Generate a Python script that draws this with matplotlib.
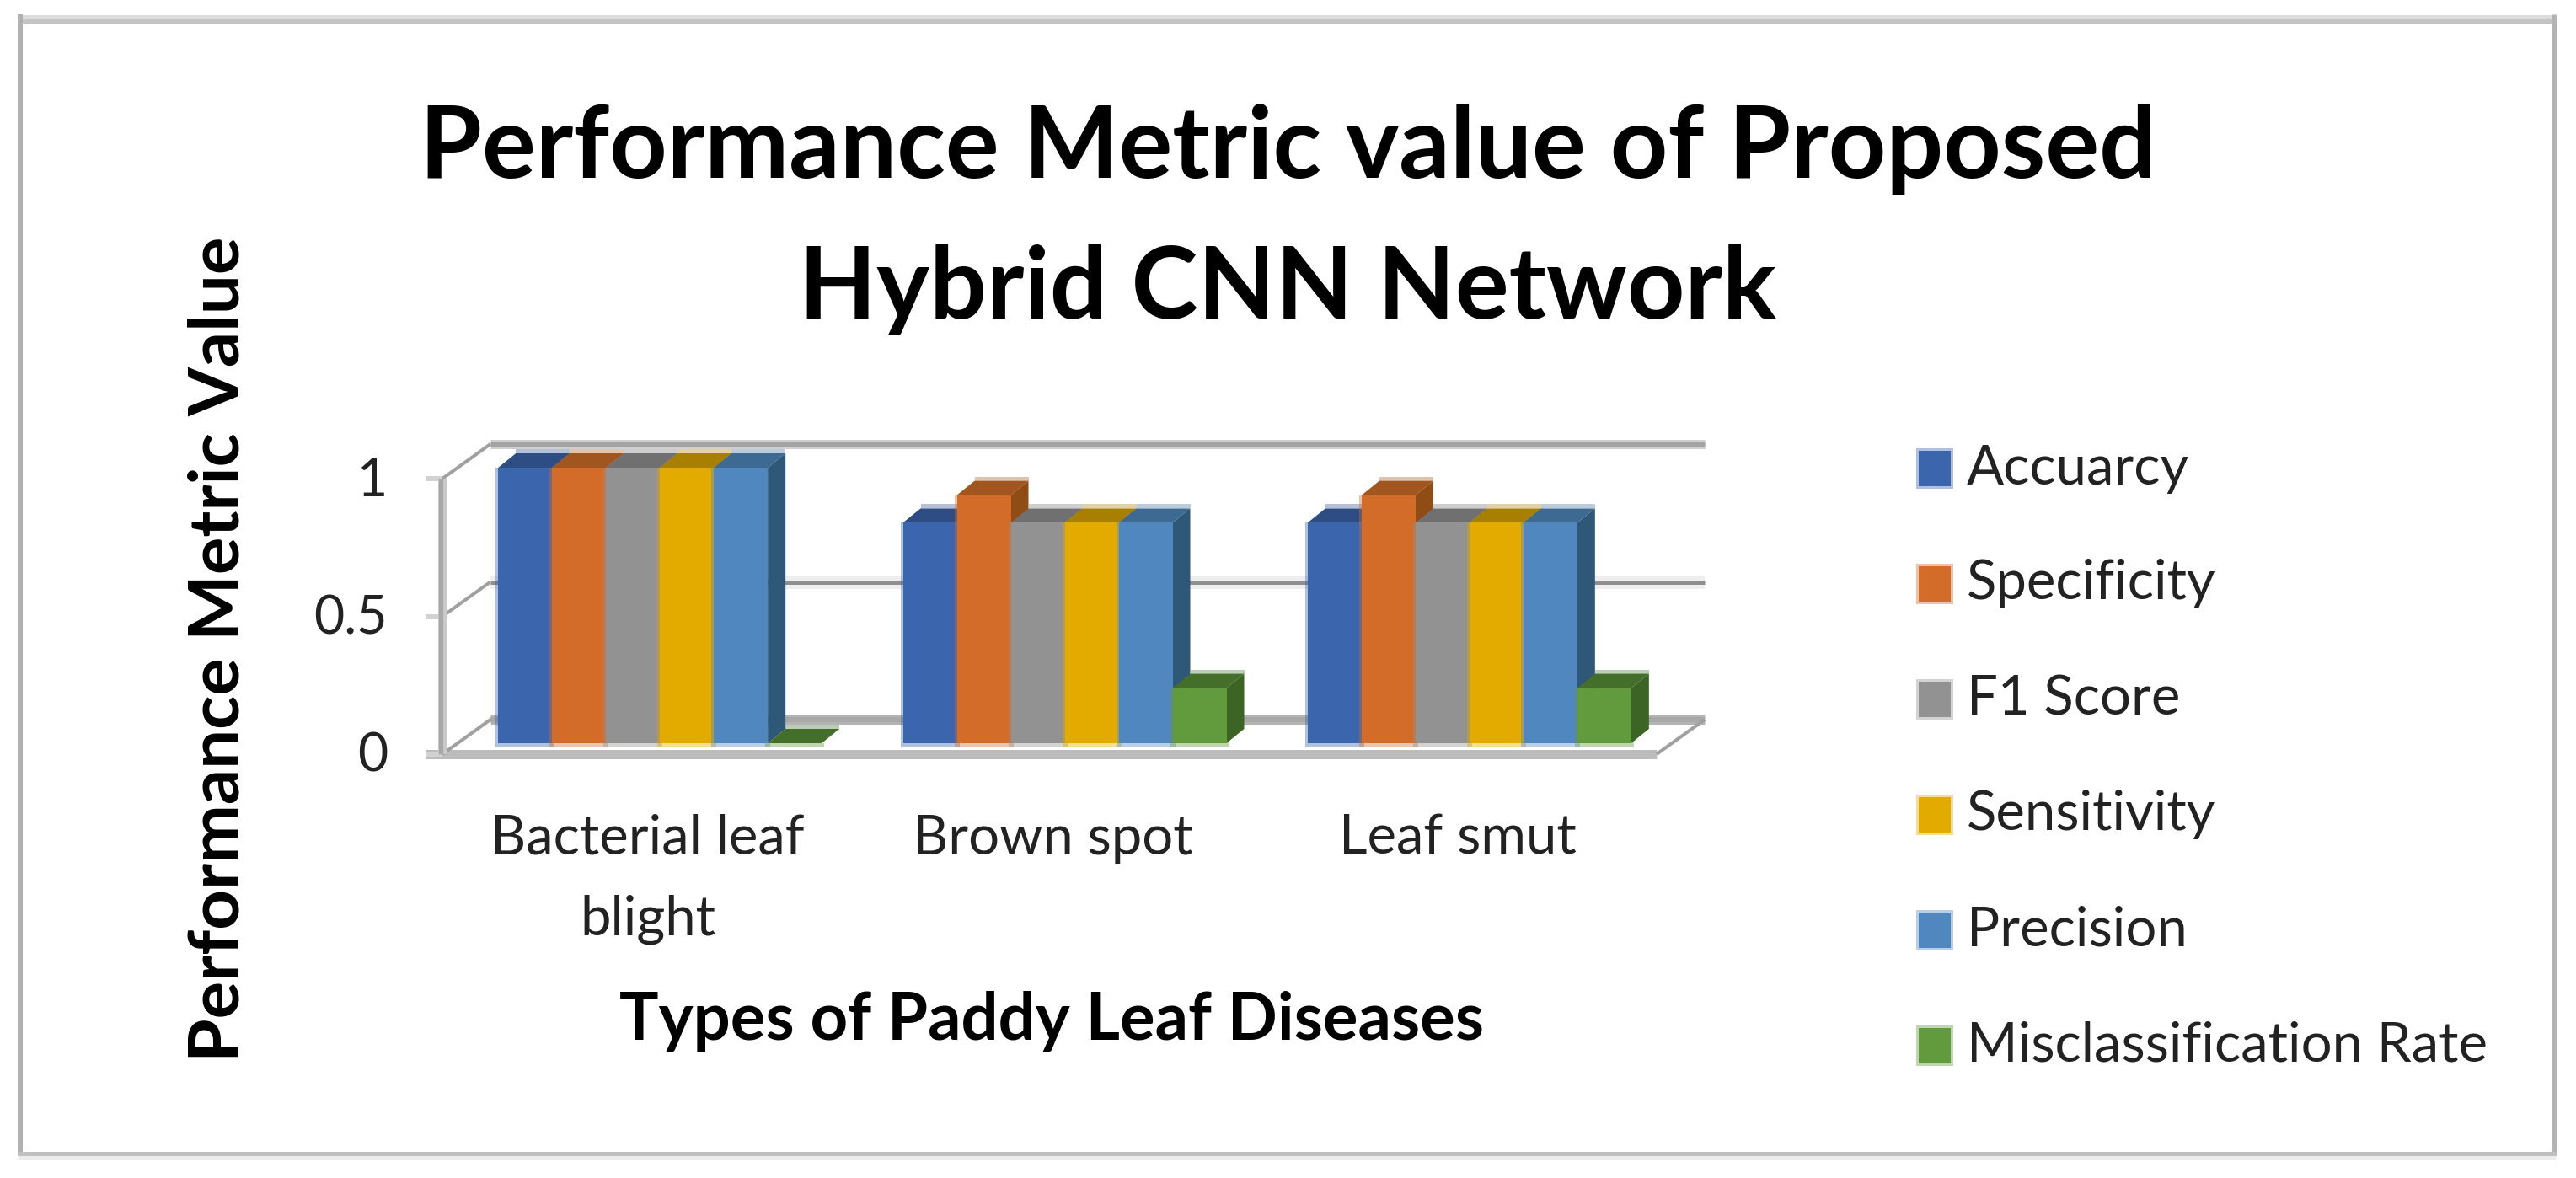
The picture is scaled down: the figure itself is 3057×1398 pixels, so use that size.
#!/usr/bin/env python3
import matplotlib
matplotlib.use("Agg")
import matplotlib.pyplot as plt
from matplotlib.lines import Line2D
from matplotlib.patches import Polygon, Rectangle

categories = ["Bacterial leaf\nblight", "Brown spot", "Leaf smut"]
series_names = ["Accuarcy", "Specificity", "F1 Score", "Sensitivity", "Precision",
                "Misclassification Rate"]
accuracy = [1.0, 0.8, 0.8]
specificity = [1.0, 0.9, 0.9]
f1_score = [1.0, 0.8, 0.8]
sensitivity = [1.0, 0.8, 0.8]
precision = [1.0, 0.8, 0.8]
misclassification = [0.0, 0.2, 0.2]
yticks = [0, 0.5, 1]
ytick_labels = ["0", "0.5", "1"]

front_colors = ["#3B65AD", "#D26C28", "#929292", "#E3AB00", "#5087BF", "#629A3E"]
top_colors = ["#2E4D85", "#A0561E", "#707070", "#A87F00", "#3D6A92", "#446F2B"]
side_colors = ["#2F4F80", "#8F4D15", "#666666", "#8F6C00", "#2F5878", "#3C6424"]

W, H = 3057, 1398
plt.rcParams['font.family'] = ['Lato', 'DejaVu Sans']
fig = plt.figure(figsize=(W / 100, H / 100), dpi=100)


def frame_line(x0, y0, x1, y1, color, px):
    fig.add_artist(Line2D([x0 / W, x1 / W], [1 - y0 / H, 1 - y1 / H], color=color,
                          lw=px * 0.72, transform=fig.transFigure, solid_capstyle="butt"))


# frame around whole picture
frame_line(21, 19.5, 3033, 19.5, "#dcdcdc", 5)
frame_line(21, 24.5, 3033, 24.5, "#c4c4c4", 5)
frame_line(24, 17, 24, 1371, "#b0b0b0", 6)
frame_line(3030.5, 17, 3030.5, 1371, "#b4b4b4", 5)
frame_line(21, 1368.5, 3033, 1368.5, "#c0c0c0", 5)
frame_line(21, 1373.5, 3033, 1373.5, "#ececec", 5)

# axes sits on the plane of the bar fronts: y 0 at pixel 882, y 1 at pixel 555
px_x0, px_x1 = 543, 1984
px_y0, px_y1 = 882, 555
ax = fig.add_axes([px_x0 / W, 1 - px_y0 / H, (px_x1 - px_x0) / W, (px_y0 - px_y1) / H])
ax.set_xlim(-0.5, 2.5)
ax.set_ylim(0, 1)
ax.axis("off")

ux = (px_x1 - px_x0) / 3  # pixels per category
uy = px_y0 - px_y1        # pixels per unit value
back_dx, back_dy = 39 / ux, 28 / uy
front_dx, front_dy = -18 / ux, -13 / uy
bar_dx, bar_dy = 21 / ux, 17 / uy
bar_w = 64 / ux


def poly(pts, color, z, alpha=1.0):
    ax.add_patch(Polygon(pts, closed=True, fc=color, ec="none", alpha=alpha, zorder=z,
                         clip_on=False))


def line(xs, ys, color, px, z=1):
    ax.plot(xs, ys, color=color, lw=px * 0.72, zorder=z, clip_on=False,
            solid_capstyle="butt")


# back wall gridlines (blurred look: wide pale line under narrow dark one)
x_left, x_right = -0.5, 2.5
for val, pale, dark, pale_w, dark_w in [(1, "#cfcfcf", "#a3a3a3", 11, 5),
                                        (0.5, "#eeeeee", "#8f8f8f", 16, 5),
                                        (0, "#b4b4b4", "#a8a8a8", 11, 6)]:
    xs = [x_left + back_dx, x_right + back_dx]
    ys = [val + back_dy, val + back_dy]
    line(xs, ys, pale, pale_w)
    line(xs, ys, dark, dark_w)

# floor front edge, depth lines, vertical axis
line([x_left + front_dx - 20 / ux, x_right + front_dx], [front_dy, front_dy], "#bcbcbc", 11)
for val in yticks:
    line([x_left + front_dx, x_left + back_dx], [val + front_dy, val + back_dy], "#a0a0a0", 4)
    line([x_left + front_dx - 20 / ux, x_left + front_dx], [val + front_dy, val + front_dy],
         "#d2d2d2", 6)
line([x_right + front_dx, x_right + back_dx], [front_dy, back_dy], "#a0a0a0", 4)
line([x_left + front_dx, x_left + front_dx], [front_dy, 1 + front_dy], "#c8c8c8", 10)
line([x_left + front_dx - 2.5 / ux, x_left + front_dx - 2.5 / ux], [front_dy, 1 + front_dy],
     "#a8a8a8", 5)

# bars
all_series = [accuracy, specificity, f1_score, sensitivity, precision, misclassification]
n = len(all_series)
for s, values in enumerate(all_series):
    z = 3 + s
    for c, v in enumerate(values):
        x0 = c + (s - n / 2) * bar_w
        x1 = x0 + bar_w
        poly([(x0, v), (x1, v), (x1 + bar_dx, v + bar_dy), (x0 + bar_dx, v + bar_dy)],
             top_colors[s], z)
        # pale fringe along the back of the top face
        poly([(x0 + bar_dx, v + bar_dy), (x1 + bar_dx, v + bar_dy),
              (x1 + bar_dx, v + bar_dy + 5 / uy), (x0 + bar_dx, v + bar_dy + 5 / uy)],
             top_colors[s], z, alpha=0.35)
        if v > 0:
            poly([(x1, 0), (x1 + bar_dx, bar_dy), (x1 + bar_dx, v + bar_dy), (x1, v)],
                 side_colors[s], z)
    xs = [c + (s - n / 2) * bar_w + bar_w / 2 for c in range(len(values))]
    # pale fringe round the bars, deepest at the foot
    ax.bar(xs, [v + 5 / uy for v in values], bottom=-5 / uy, width=bar_w + 6 / ux,
           color=front_colors[s], alpha=0.4, zorder=z - 0.1, clip_on=False)
    ax.bar(xs, values, width=bar_w, color=front_colors[s], zorder=z + 0.5, clip_on=False)

# text
fig.text(1528 / W, 1 - 177 / H, "Performance Metric value of Proposed", ha="center",
         va="center", fontsize=86, fontweight="bold", color="black")
fig.text(1528 / W, 1 - 344 / H, "Hybrid CNN Network", ha="center", va="center",
         fontsize=86, fontweight="bold", color="black")
fig.text(260 / W, 1 - 770 / H, "Performance Metric Value", rotation=90, ha="center",
         va="center", fontsize=60, fontweight="bold", color="black")
fig.text(1248 / W, 1 - 1212 / H, "Types of Paddy Leaf Diseases", ha="center", va="center",
         fontsize=56, fontweight="bold", color="black")

for val, lab in zip(yticks, ytick_labels):
    ax.text(x_left + front_dx - 65 / ux, val + front_dy - 3 / uy, lab, ha="right", va="center",
            fontsize=45, color="#222222", clip_on=False)
for c, lab in enumerate(categories):
    ax.text(c - 0.03, -84 / uy, lab, ha="center", va="top", fontsize=47, color="#222222",
            linespacing=1.76, clip_on=False)

# legend drawn by hand so the spacing follows the picture
for i, name in enumerate(series_names):
    y = 556 + i * 137
    fig.add_artist(Rectangle((2274 / W, 1 - (y + 24) / H), 44 / W, 48 / H,
                             transform=fig.transFigure, fc=front_colors[i], ec="none",
                             alpha=0.4))
    fig.add_artist(Rectangle((2277 / W, 1 - (y + 21) / H), 38 / W, 42 / H,
                             transform=fig.transFigure, fc=front_colors[i], ec="none"))
    fig.text(2334 / W, 1 - y / H, name, ha="left", va="center", fontsize=47, color="#222222")

fig.savefig("out.png", dpi=100)
